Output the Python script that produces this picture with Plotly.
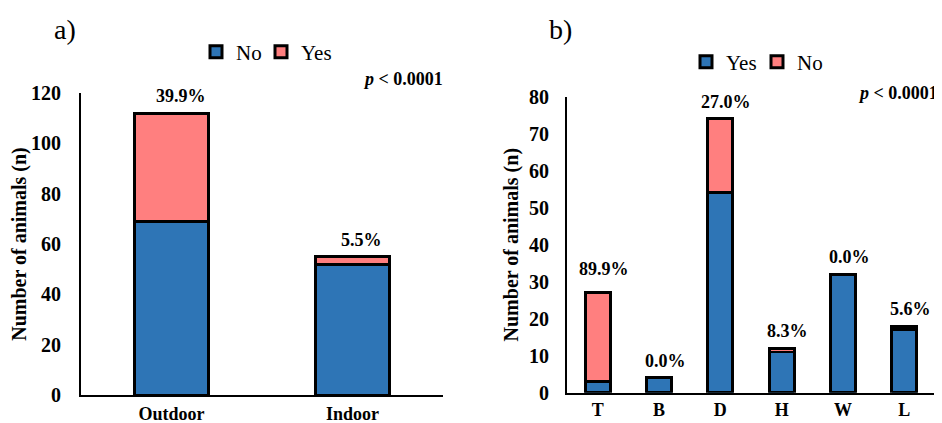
import plotly.graph_objects as go

# Panel a
a_categories = ["Outdoor", "Indoor"]
a_no = [69, 52]
a_yes = [43, 3]
a_labels = ["39.9%", "5.5%"]

# Panel b
b_categories = ["T", "B", "D", "H", "W", "L"]
b_yes = [3, 4, 54, 11, 32, 17]
b_no = [24, 0, 20, 1, 0, 1]
b_labels = ["89.9%", "0.0%", "27.0%", "8.3%", "0.0%", "5.6%"]

BLUE = "#2E75B6"
PINK = "#FF7F7F"
SERIF = "Liberation Serif"
LINE = dict(color="black", width=3)

W, H = 942, 423
OFF = 8  # page body margin in the browser


def px(sx):
    return (sx - OFF) / W


def py(sy):
    return (H - (sy - OFF)) / H


fig = go.Figure()

fig.add_trace(go.Bar(x=a_categories, y=a_no, name="No", marker=dict(color=BLUE, line=LINE),
                     xaxis="x", yaxis="y", legend="legend", legendwidth=20))
fig.add_trace(go.Bar(x=a_categories, y=a_yes, name="Yes", marker=dict(color=PINK, line=LINE),
                     xaxis="x", yaxis="y", legend="legend"))
fig.add_trace(go.Bar(x=b_categories, y=b_yes, name="Yes", marker=dict(color=BLUE, line=LINE),
                     xaxis="x2", yaxis="y2", legend="legend2", legendwidth=26))
fig.add_trace(go.Bar(x=b_categories, y=b_no, name="No", marker=dict(color=PINK, line=LINE),
                     xaxis="x2", yaxis="y2", legend="legend2"))

LABEL_FONT = dict(family=SERIF, size=18, color="black")
annotations = []
for c, n, y, t in zip(a_categories, a_no, a_yes, a_labels):
    annotations.append(dict(x=c, y=n + y, xref="x", yref="y", text=f"<b>{t}</b>", showarrow=False,
                            yanchor="bottom", yshift=5, xshift=9, font=LABEL_FONT))
for i, (c, y, n, t) in enumerate(zip(b_categories, b_yes, b_no, b_labels)):
    annotations.append(dict(x=c, y=y + n, xref="x2", yref="y2", text=f"<b>{t}</b>", showarrow=False,
                            yanchor="bottom", yshift=5 if i else 12, xshift=6, font=LABEL_FONT))

annotations += [
    dict(x=px(65), y=py(30), text="a)", xanchor="center",
         font=dict(family=SERIF, size=28, color="black")),
    dict(x=px(560), y=py(30), text="b)", xanchor="center",
         font=dict(family=SERIF, size=28, color="black")),
    dict(x=px(445), y=py(79), text="<b><i>p</i> < 0.0001</b>", xanchor="right",
         font=dict(family=SERIF, size=18, color="black")),
    dict(x=px(940), y=py(93), text="<b><i>p</i> < 0.0001</b>", xanchor="right",
         font=dict(family=SERIF, size=18, color="black")),
]
for a in annotations[-4:]:
    a.update(xref="paper", yref="paper", showarrow=False, yanchor="middle")

TICK_FONT = dict(family=SERIF, size=20, color="black")
XTICK_FONT = dict(family=SERIF, size=18, color="black")
TITLE_FONT = dict(family=SERIF, size=20, color="black")
LEGEND_FONT = dict(family=SERIF, size=21, color="black")
axis_common = dict(showline=True, linecolor="black", linewidth=2, showgrid=False, zeroline=False,
                   ticks="", automargin=False, tickprefix="<b>", ticksuffix="</b>")

fig.update_layout(
    width=W, height=H,
    margin=dict(l=0, r=0, t=0, b=0),
    paper_bgcolor="white", plot_bgcolor="white",
    barmode="stack", bargap=0.59,
    showlegend=True,
    xaxis=dict(domain=[px(81), px(443)], anchor="y", tickfont=XTICK_FONT, ticklabelstandoff=1,
               **axis_common),
    yaxis=dict(domain=[py(395), py(93)], anchor="x", range=[0, 120], dtick=20,
               tickfont=TICK_FONT, ticklabelstandoff=14,
               title=dict(text="<b>Number of animals (n)</b>", font=TITLE_FONT, standoff=2),
               **axis_common),
    xaxis2=dict(domain=[px(567), px(935)], anchor="y2", tickfont=XTICK_FONT, ticklabelstandoff=0,
                **axis_common),
    yaxis2=dict(domain=[py(392.7), py(96.7)], anchor="x2", range=[0, 80], dtick=10,
                tickfont=TICK_FONT, ticklabelstandoff=12,
                title=dict(text="<b>Number of animals (n)</b>", font=TITLE_FONT, standoff=5),
                **axis_common),
    legend=dict(orientation="h", x=px(196), y=py(52), xanchor="left", yanchor="middle",
                font=LEGEND_FONT, itemwidth=30, bgcolor="rgba(0,0,0,0)", traceorder="normal"),
    legend2=dict(orientation="h", x=px(686), y=py(62), xanchor="left", yanchor="middle",
                 font=LEGEND_FONT, itemwidth=30, bgcolor="rgba(0,0,0,0)", traceorder="normal"),
    annotations=annotations,
)

fig.write_html("out.html")
